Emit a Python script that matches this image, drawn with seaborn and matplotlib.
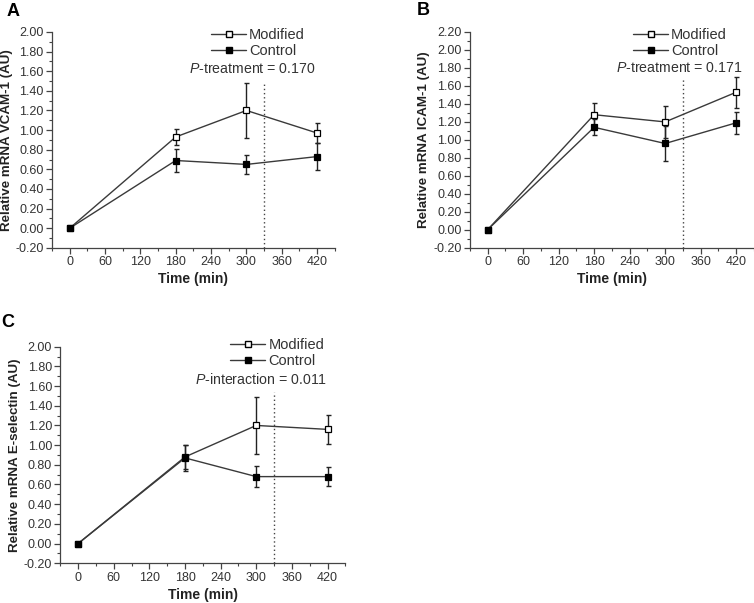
import numpy as np
import pandas as pd
import matplotlib
matplotlib.use("Agg")
import matplotlib.pyplot as plt
from matplotlib.lines import Line2D
import seaborn as sns

# %% - podaci
times = [0, 180, 300, 420]

vcam_mod = [0.0, 0.93, 1.20, 0.97]
vcam_mod_err = [0.0, 0.085, 0.28, 0.10]
vcam_ctl = [0.0, 0.69, 0.65, 0.73]
vcam_ctl_err = [0.0, 0.115, 0.10, 0.135]

icam_mod = [0.0, 1.28, 1.20, 1.53]
icam_mod_err = [0.0, 0.13, 0.18, 0.17]
icam_ctl = [0.0, 1.14, 0.96, 1.19]
icam_ctl_err = [0.0, 0.09, 0.20, 0.125]

esel_mod = [0.0, 0.88, 1.20, 1.16]
esel_mod_err = [0.0, 0.12, 0.29, 0.145]
esel_ctl = [0.0, 0.87, 0.68, 0.68]
esel_ctl_err = [0.0, 0.13, 0.105, 0.10]

x_ticks = [0, 60, 120, 180, 240, 300, 360, 420]

sns.set_style("ticks")
plt.rcParams["font.family"] = ["Liberation Sans", "DejaVu Sans"]
plt.rcParams["mathtext.fontset"] = "custom"
plt.rcParams["mathtext.rm"] = "Liberation Sans"
plt.rcParams["mathtext.it"] = "Liberation Sans:italic"

line_col = "#3a3a3a"
text_col = "#333333"


def panel(ax, mod, mod_err, ctl, ctl_err, ylabel, ymax, ptext, dot_top, letter,
          leg_x, leg_y, p_x, p_y, let_x, let_y):
    df = pd.DataFrame(
        {
            "Time": times * 2,
            "Value": mod + ctl,
            "Grupa": ["Modified"] * 4 + ["Control"] * 4,
        }
    )
    for grupa, face, err in [("Modified", "white", mod_err), ("Control", "black", ctl_err)]:
        sub = df[df["Grupa"] == grupa]
        ax.errorbar(
            sub["Time"], sub["Value"], yerr=err, fmt="none",
            ecolor="#222222", elinewidth=1.0, capsize=1.8, capthick=1.0, zorder=2,
        )
        sns.lineplot(
            data=sub, x="Time", y="Value", ax=ax, color=line_col, linewidth=1.0,
            marker="s", markersize=4.2, markerfacecolor=face,
            markeredgecolor="black", markeredgewidth=0.9, zorder=3, legend=False,
        )

    # vertikalna isprekidana linija
    ax.vlines(330, -0.2, dot_top, colors="#444444", linestyles=(0, (1, 2)), linewidth=1.0)

    ax.set_xlim(-30, 450)
    ax.set_ylim(-0.2, ymax)
    ax.set_xticks(x_ticks)
    ax.set_xticks(np.arange(-30, 451, 30), minor=True)
    yt = np.arange(-0.2, ymax + 0.001, 0.2)
    ax.set_yticks(yt)
    ax.set_yticklabels([f"{v:.2f}" for v in yt])
    ax.set_yticks(np.arange(-0.2, ymax + 0.001, 0.1), minor=True)
    ax.tick_params(axis="both", which="major", length=4, width=0.9,
                   labelsize=9, colors="#444444", labelcolor=text_col, pad=2)
    ax.tick_params(axis="both", which="minor", length=2, width=0.8, colors="#444444")
    sns.despine(ax=ax)
    for s in ["left", "bottom"]:
        ax.spines[s].set_color("#444444")
        ax.spines[s].set_linewidth(0.9)

    ax.set_xlabel("Time (min)", fontsize=10, fontweight="bold", color="#222222", labelpad=3)
    ax.set_ylabel(ylabel, fontsize=9.6, fontweight="bold", color="#222222", labelpad=2)

    handles = [
        Line2D([], [], color=line_col, lw=1.0, marker="s", markersize=4,
               markerfacecolor="white", markeredgecolor="black"),
        Line2D([], [], color=line_col, lw=1.0, marker="s", markersize=4,
               markerfacecolor="black", markeredgecolor="black"),
    ]
    leg = ax.legend(handles, ["Modified", "Control"], loc="upper right",
                    bbox_to_anchor=(leg_x, leg_y), frameon=False, fontsize=10.5,
                    handlelength=2.4, handletextpad=0.2, labelspacing=0.15,
                    borderpad=0, borderaxespad=0)
    for t in leg.get_texts():
        t.set_color(text_col)
    ax.text(p_x, p_y, ptext, transform=ax.transAxes, ha="right", va="center",
            fontsize=10.2, color=text_col)
    ax.text(let_x, let_y, letter, transform=ax.transAxes, ha="center", va="center",
            fontsize=13, fontweight="bold", color="black")


fig = plt.figure(figsize=(7.54, 6.03), dpi=100)
ax_a = fig.add_axes([0.069, 0.589, 0.375, 0.358])
ax_b = fig.add_axes([0.623, 0.589, 0.377, 0.358])
ax_c = fig.add_axes([0.080, 0.066, 0.378, 0.359])

panel(ax_a, vcam_mod, vcam_mod_err, vcam_ctl, vcam_ctl_err,
      "Relative mRNA VCAM-1 (AU)", 2.0, r"$P$-treatment = 0.170", 1.48, "A",
      0.894, 1.02, 0.933, 0.829, -0.138, 1.093)
panel(ax_b, icam_mod, icam_mod_err, icam_ctl, icam_ctl_err,
      "Relative mRNA ICAM-1 (AU)", 2.2, r"$P$-treatment = 0.171", 1.69, "B",
      0.905, 1.02, 0.961, 0.832, -0.162, 1.10)
panel(ax_c, esel_mod, esel_mod_err, esel_ctl, esel_ctl_err,
      "Relative mRNA E-selectin (AU)", 2.0, r"$P$-interaction = 0.011", 1.54, "C",
      0.926, 1.04, 0.937, 0.849, -0.186, 1.11)

fig.savefig("out.png", dpi=100)
